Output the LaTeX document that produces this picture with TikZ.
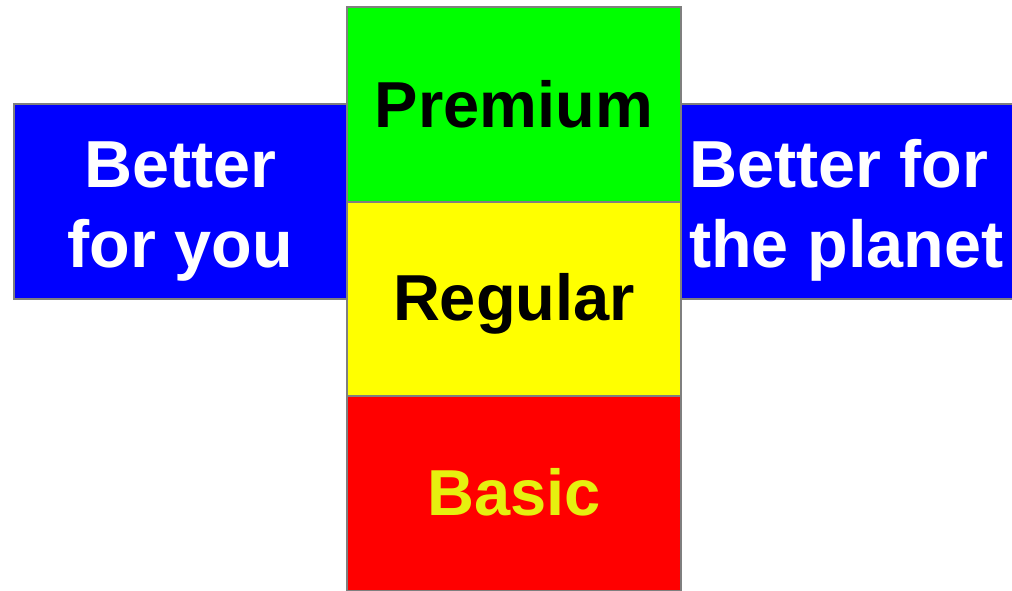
\documentclass[tikz,border=0pt]{standalone}
\usepackage{fontspec}
\setmainfont{Liberation Sans}
\usepackage{xcolor}
\usepackage{tikz}
\usetikzlibrary{positioning}
\definecolor{frame}{HTML}{7F7F7F}
\definecolor{tierblue}{HTML}{0000FF}
\definecolor{tiergreen}{HTML}{00FF00}
\definecolor{tieryellow}{HTML}{FFFF00}
\definecolor{tierred}{HTML}{FF0000}
\definecolor{basictext}{HTML}{E6F00F}

\begin{document}
\begin{tikzpicture}[x=1pt,y=-1pt,
  tier/.style={draw=frame,line width=2pt,outer sep=0pt,inner sep=0pt,minimum width=334pt,minimum height=194.5pt},
  side/.style={tier,fill=tierblue,minimum width=333pt},
  lbl/.style={font=\fontsize{65}{80}\selectfont\bfseries,inner sep=0pt,anchor=base},
  sidelbl/.style={lbl,text=white,font=\fontsize{66.5}{80}\selectfont\bfseries}]
\clip (0,0) rectangle (1012,591);
% centre column
\node[tier,fill=tiergreen] (premium) at (514,104.5){};
\node[tier,fill=tieryellow,below=0pt of premium] (regular){};
\node[tier,fill=tierred,below=0pt of regular] (basic){};
% side boxes
\node[side,anchor=east] (you) at (premium.south west){};
\node[side,anchor=west,minimum width=340pt] (planet) at (premium.south east){};
% labels (base = last line)
\node[lbl] at ([yshift=-23pt]premium.center){Premium};
\node[lbl] at ([yshift=-21pt]regular.center){Regular};
\node[lbl,text=basictext] at ([yshift=-22pt]basic.center){Basic};
\node[sidelbl,align=center] at ([yshift=-66pt]you.center){Better\\for you};
\node[sidelbl,align=left,anchor=base west] at ([xshift=8pt,yshift=-66pt]planet.west){Better for\\the planet};
\end{tikzpicture}
\end{document}
